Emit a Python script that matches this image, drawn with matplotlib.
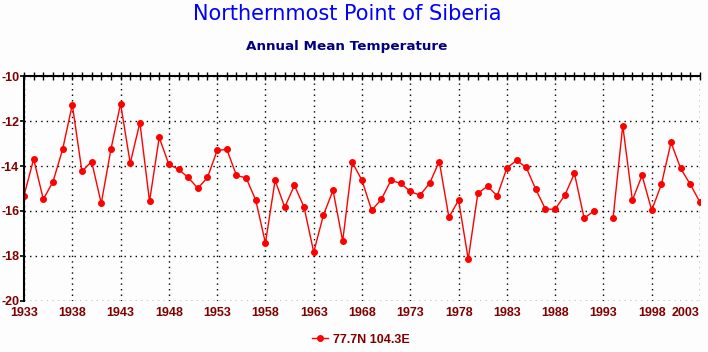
import numpy as np
import matplotlib
matplotlib.use("Agg")
import matplotlib.pyplot as plt
from matplotlib.ticker import FixedLocator, MultipleLocator

# Annual mean temperature, 77.7N 104.3E (1993 missing)
years = list(range(1933, 2004))
temps = [
    -15.32, -13.69, -15.48, -14.70, -13.26, -11.27, -14.24, -13.80, -15.66, -13.26,
    -11.23, -13.88, -12.07, -15.57, -12.73, -13.93, -14.15, -14.51, -14.99, -14.51,
    -13.31, -13.26, -14.42, -14.53, -15.52, -17.43, -14.64, -15.83, -14.86, -15.83,
    -17.83, -16.19, -15.08, -17.34, -13.84, -14.64, -15.97, -15.48, -14.64, -14.77,
    -15.13, -15.30, -14.77, -13.80, -16.28, -15.52, -18.14, -15.21, -14.90, -15.33,
    -14.09, -13.75, -14.06, -15.04, -15.92, -15.92, -15.30, -14.33, -16.32, -16.01,
    np.nan, -16.32, -12.20, -15.52, -14.42, -15.97, -14.82, -12.95, -14.11, -14.82,
    -15.61,
]
year_ticks = years[::5]
series_label = "77.7N 104.3E"
title = "Northernmost Point of Siberia"
subtitle = "Annual Mean Temperature"

dark_red = "#800000"
label_fonts = ["Liberation Sans Narrow", "Liberation Sans"]
plt.rcParams["axes.unicode_minus"] = False

fig = plt.figure(figsize=(7.08, 3.52), dpi=100, facecolor="#fdfdfd")
ax = fig.add_axes([0.0339, 0.145, 0.9548, 0.639], facecolor="#fdfdfd")

line, = ax.plot(years, temps, color="#ff0000", linewidth=1.0, marker="o",
                markersize=4, markerfacecolor="#ff0000", markeredgecolor="#ff0000",
                label=series_label)

ax.set_xlim(1933, 2003)
ax.set_ylim(-20, -10)
ax.xaxis.set_major_locator(FixedLocator(year_ticks))
ax.xaxis.set_minor_locator(MultipleLocator(1))
ax.yaxis.set_major_locator(MultipleLocator(2))

ax.grid(True, which="major", color="black", linestyle=(0, (1, 3)), linewidth=1.0)

for s in ["bottom", "right"]:
    ax.spines[s].set_visible(False)
ax.spines["top"].set_linewidth(1.5)
ax.spines["left"].set_linewidth(1.5)

ax.tick_params(axis="x", which="both", bottom=False, top=True, labelbottom=True,
               direction="inout", length=6, width=1.0, pad=1)
ax.tick_params(axis="y", which="major", left=True, direction="out", length=3,
               width=1.2, pad=0.5)

for lab in ax.get_xticklabels() + ax.get_yticklabels():
    lab.set_family(label_fonts)
    lab.set_fontweight("bold")
    lab.set_fontsize(9)
    lab.set_color(dark_red)
# keep the last year label inside the picture
ax.get_xticklabels()[-1].set_horizontalalignment("right")

fig.text(0.49, 0.96, title, ha="center", va="center", color="#0000ff",
         fontsize=15, fontfamily="DejaVu Sans")
fig.text(0.49, 0.869, subtitle, ha="center", va="center", color="#000080",
         fontsize=9.7, fontweight="bold", fontfamily="DejaVu Sans")

leg = fig.legend(handles=[line], loc="center", bbox_to_anchor=(0.51, 0.035),
                 frameon=False, handlelength=1.3, handletextpad=0.4,
                 prop={"family": label_fonts, "weight": "bold", "size": 9})
for t in leg.get_texts():
    t.set_color(dark_red)

fig.savefig("out.png", dpi=100, facecolor=fig.get_facecolor())
